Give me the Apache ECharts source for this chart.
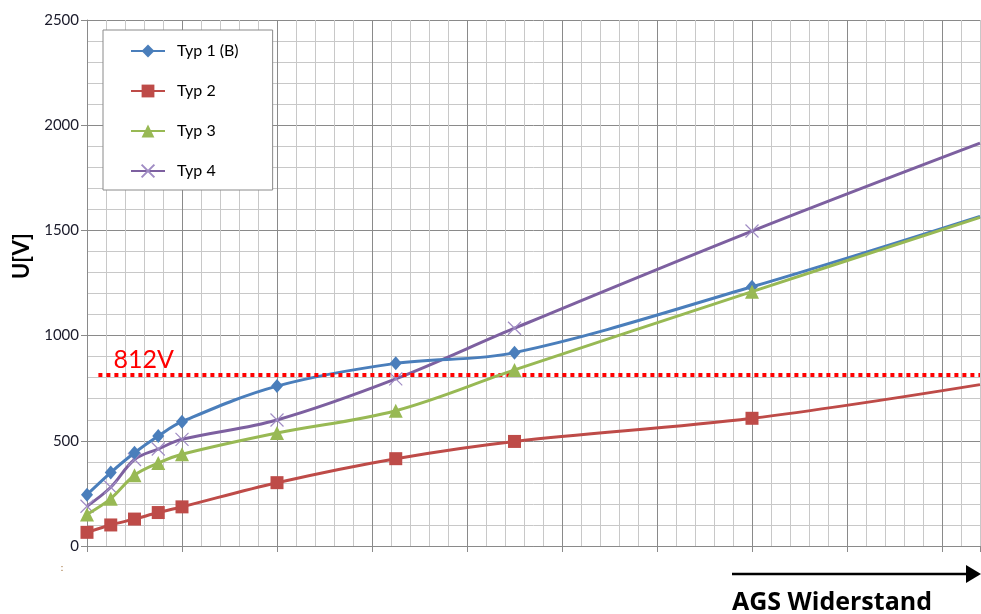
<!DOCTYPE html>
<html>
<head>
<meta charset="utf-8">
<script src="https://cdn.jsdelivr.net/npm/echarts@6/dist/echarts.min.js"></script>
<style>
  html, body { margin: 0; padding: 0; background: #ffffff; }
  #chart { width: 981px; height: 614px; }
</style>
</head>
<body>
<div id="chart"></div>
<script>
// Resistance positions along the horizontal axis (no printed labels)
const resistance = [0, 0.25, 0.5, 0.75, 1, 2, 3.25, 4.5, 7, 9.4];

// Voltage readings per type, U in volts
const typ1 = [244, 349, 443, 523, 591, 760, 868, 919, 1232, 1567];
const typ2 = [65, 100, 128, 159, 186, 301, 415, 497, 607, 767];
const typ3 = [150, 225, 336, 394, 436, 537, 643, 837, 1209, 1562];
const typ4 = [189, 279, 411, 461, 507, 599, 794, 1035, 1497, 1915];

const seriesNames = ['Typ 1 (B)', 'Typ 2', 'Typ 3', 'Typ 4'];

// Threshold voltage
const limitVoltage = 812;
const limitLabel = '812V';

const yTicks = [0, 500, 1000, 1500, 2000, 2500];

const axisName = 'U[V]';
const xCaption = 'AGS Widerstand';

const xMax = resistance[resistance.length - 1];

// The last sample sits on the right border of the plot; it carries no marker
function toPoints(values) {
  return values.map((v, i) => {
    const pt = { value: [resistance[i], v] };
    if (i === values.length - 1) pt.symbol = 'none';
    return pt;
  });
}

const FONT = 'Lato, "Open Sans", sans-serif';
const MAJOR = '#8a8a8a';
const MINOR = '#c8c8c8';

const chart = echarts.init(document.getElementById('chart'), null, { renderer: 'canvas' });

const crossPath = 'path://M0,0L10,10M10,0L0,10';

chart.setOption({
  animation: false,
  backgroundColor: '#ffffff',
  grid: { left: 87, right: 1, top: 20, bottom: 68, containLabel: false },
  xAxis: [
    {
      type: 'value', min: 0, max: xMax, interval: 1,
      axisLine: { show: true, lineStyle: { color: MAJOR, width: 1 } },
      axisTick: { show: true, length: 6, lineStyle: { color: MAJOR } },
      axisLabel: { show: false },
      splitLine: { show: true, showMaxLine: false, lineStyle: { color: MAJOR, width: 1 } },
      z: 1
    },
    {
      type: 'value', min: 0, max: xMax, interval: 0.2, position: 'bottom',
      axisLine: { show: false }, axisTick: { show: false }, axisLabel: { show: false },
      splitLine: { show: true, lineStyle: { color: MINOR, width: 1 } },
      z: 0
    }
  ],
  yAxis: {
    type: 'value', min: yTicks[0], max: yTicks[yTicks.length - 1], interval: 500,
    axisLine: { show: true, lineStyle: { color: MAJOR, width: 1 } },
    axisTick: { show: true, length: 6, lineStyle: { color: MAJOR } },
    axisLabel: { show: true, margin: 8, color: '#1a1a2a', fontSize: 15, fontFamily: FONT, formatter: v => String(v) },
    splitLine: { show: true, lineStyle: { color: MAJOR, width: 1 } },
    minorTick: { show: false, splitNumber: 5 },
    minorSplitLine: { show: true, lineStyle: { color: MINOR, width: 1 } }
  },
  legend: {
    orient: 'vertical', left: 103, top: 30,
    padding: [13, 34, 11, 27], itemGap: 24, itemWidth: 34, itemHeight: 16,
    backgroundColor: '#ffffff', borderColor: '#8a8a8a', borderWidth: 1,
    textStyle: { fontSize: 16, color: '#000000', fontFamily: FONT, padding: [0, 0, 0, 7] },
    data: seriesNames
  },
  series: [
    {
      name: seriesNames[0], type: 'line', xAxisIndex: 0, smooth: 0.35,
      data: toPoints(typ1), symbol: 'diamond', symbolSize: [12, 14],
      itemStyle: { color: '#4a7ebb' }, lineStyle: { color: '#4a7ebb', width: 3 },
      z: 4,
      markLine: {
        silent: true, symbol: 'none',
        lineStyle: { color: '#ff0000', width: 4, type: [4, 4], cap: 'butt' },
        label: {
          show: true, position: 'insideStartTop', formatter: limitLabel,
          color: '#ff0000', fontSize: 25, fontFamily: FONT, distance: [15, 3]
        },
        data: [[{ coord: [0.12, limitVoltage] }, { coord: [xMax, limitVoltage] }]]
      }
    },
    {
      name: seriesNames[1], type: 'line', xAxisIndex: 0, smooth: 0.35,
      data: toPoints(typ2), symbol: 'rect', symbolSize: 13,
      itemStyle: { color: '#be4b48' }, lineStyle: { color: '#be4b48', width: 3 },
      z: 3
    },
    {
      name: seriesNames[2], type: 'line', xAxisIndex: 0, smooth: 0.35,
      data: toPoints(typ3), symbol: 'triangle', symbolSize: 14,
      itemStyle: { color: '#98b954' }, lineStyle: { color: '#98b954', width: 3 },
      z: 5
    },
    {
      name: seriesNames[3], type: 'line', xAxisIndex: 0, smooth: 0.35,
      data: toPoints(typ4), symbol: crossPath, symbolSize: 13,
      itemStyle: { color: 'rgba(0,0,0,0)', borderColor: '#a08cc4', borderWidth: 1.2 },
      lineStyle: { color: '#7d60a0', width: 3 },
      z: 3
    }
  ],
  graphic: [
    {
      type: 'text', x: 22, y: 256, rotation: Math.PI / 2,
      style: { text: axisName, font: 'bold 22px ' + FONT, fill: '#000000', textAlign: 'center', textVerticalAlign: 'middle' }
    },
    {
      type: 'text', x: 62, y: 568,
      style: { text: ':', font: '10px ' + FONT, fill: '#a0703a', textAlign: 'center', textVerticalAlign: 'middle' }
    },
    {
      type: 'line', shape: { x1: 732, y1: 574, x2: 969, y2: 574 },
      style: { stroke: '#000000', lineWidth: 2.5 }
    },
    {
      type: 'polygon', shape: { points: [[966, 565], [981, 574], [966, 583]] },
      style: { fill: '#000000' }
    },
    {
      type: 'text', x: 732, y: 590,
      style: { text: xCaption, font: 'bold 25px "Open Sans", sans-serif', fill: '#000000', textAlign: 'left', textVerticalAlign: 'top' }
    }
  ]
});
</script>
</body>
</html>
